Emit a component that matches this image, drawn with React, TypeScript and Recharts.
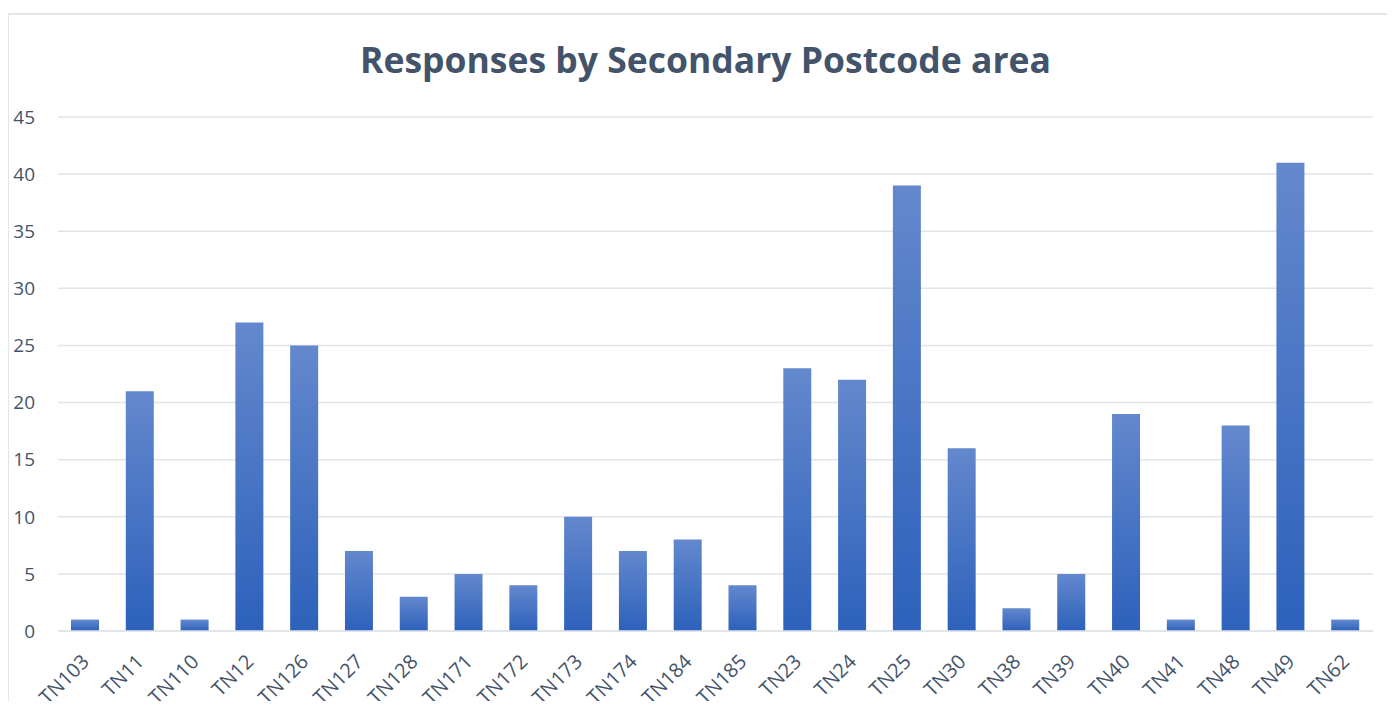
import React from 'react';
import { BarChart, Bar, XAxis, YAxis, CartesianGrid } from 'recharts';

const postcodes = [
  'TN103', 'TN11', 'TN110', 'TN12', 'TN126', 'TN127', 'TN128', 'TN171',
  'TN172', 'TN173', 'TN174', 'TN184', 'TN185', 'TN23', 'TN24', 'TN25',
  'TN30', 'TN38', 'TN39', 'TN40', 'TN41', 'TN48', 'TN49', 'TN62',
];
const responses = [1, 21, 1, 27, 25, 7, 3, 5, 4, 10, 7, 8, 4, 23, 22, 39, 16, 2, 5, 19, 1, 18, 41, 1];
const yTicks = [0, 5, 10, 15, 20, 25, 30, 35, 40, 45];

const data = postcodes.map((code, i) => ({ code, responses: responses[i] }));

const textColor = '#44546a';
const font = '"Open Sans", sans-serif';

const RotatedTick = (props: any) => {
  const { x, y, payload } = props;
  const ax = x + 5;
  const ay = y + 32;
  return (
    <text
      x={ax}
      y={ay}
      transform={`rotate(-45, ${ax}, ${ay})`}
      textAnchor="end"
      fill={textColor}
      fontSize={20}
      fontFamily={font}
    >
      {payload.value}
    </text>
  );
};

const App: React.FC = () => {
  return (
    <div style={{ position: 'relative', width: 1395, height: 709, margin: -8, overflow: 'hidden', background: '#fff' }}>
      <div
        style={{
          position: 'absolute',
          left: 7,
          top: 13,
          width: 1500,
          height: 800,
          border: '2px solid #e1e4e9',
          boxSizing: 'border-box',
        }}
      />
      <div
        style={{
          position: 'absolute',
          left: 0,
          top: 42,
          width: 1411,
          textAlign: 'center',
          fontFamily: font,
          fontWeight: 700,
          fontSize: 35.5,
          lineHeight: '34px',
          color: '#42536a',
        }}
      >
        Responses by Secondary Postcode area
      </div>
      <div style={{ position: 'absolute', left: 0, top: 0 }}>
        <BarChart
          width={1395}
          height={709}
          data={data}
          margin={{ top: 117, right: 22, left: 8, bottom: 0 }}
        >
          <defs>
            <linearGradient id="barFill" x1="0" y1="0" x2="0" y2="1">
              <stop offset="0%" stopColor="#6388cd" />
              <stop offset="100%" stopColor="#2d61bb" />
            </linearGradient>
          </defs>
          <CartesianGrid vertical={false} stroke="#e1e4e9" strokeWidth={1.5} />
          <XAxis
            dataKey="code"
            height={78}
            interval={0}
            tickLine={false}
            axisLine={{ stroke: '#e1e4e9', strokeWidth: 1.5 }}
            tickSize={0}
            tickMargin={0}
            tick={<RotatedTick />}
          />
          <YAxis
            width={50}
            domain={[0, 45]}
            ticks={yTicks}
            interval={0}
            axisLine={false}
            tickLine={false}
            tickSize={0}
            tickMargin={23}
            tick={{ fill: textColor, fontSize: 19, fontFamily: font }}
          />
          <Bar dataKey="responses" fill="url(#barFill)" barSize={28} isAnimationActive={false} />
        </BarChart>
      </div>
    </div>
  );
};

export default App;
